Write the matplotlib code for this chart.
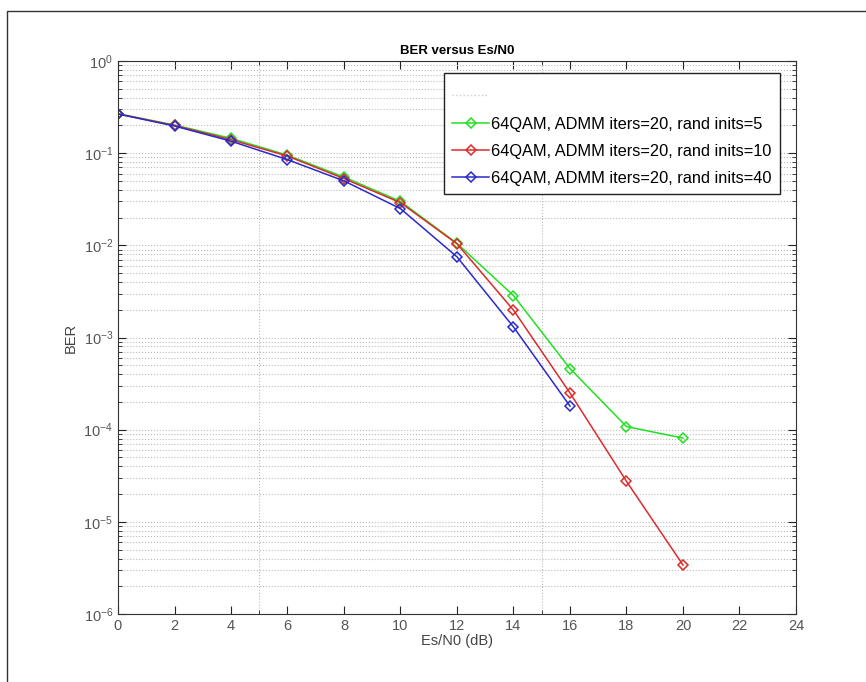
import numpy as np
import matplotlib.pyplot as plt
from matplotlib.lines import Line2D
from matplotlib.ticker import LogLocator, FixedLocator, NullFormatter

plt.rcParams['font.family'] = ['Liberation Sans', 'DejaVu Sans']

# Es/N0 (dB)
snr = [0, 2, 4, 6, 8, 10, 12, 14, 16, 18, 20]
ber_5 = [0.268, 0.202, 0.145, 0.095, 0.055, 0.030, 0.0105, 0.00285, 0.00046, 0.000108, 0.000081]
ber_10 = [0.267, 0.200, 0.140, 0.093, 0.053, 0.029, 0.0104, 0.00198, 0.00025, 0.0000275, 0.0000034]
snr_40 = [0, 2, 4, 6, 8, 10, 12, 14, 16]
ber_40 = [0.266, 0.197, 0.135, 0.085, 0.050, 0.025, 0.0075, 0.0013, 0.00018]

labels = ['64QAM, ADMM iters=20, rand inits=5',
          '64QAM, ADMM iters=20, rand inits=10',
          '64QAM, ADMM iters=20, rand inits=40']
colors = ['#22e022', '#dd2a2a', '#2a2acc']

fig = plt.figure(figsize=(8.66, 6.82), dpi=100)
# outer frame (left and top edges visible in the reference)
fig.lines.append(Line2D([7 / 866, 7 / 866, 1.0], [0.0, 1 - 11 / 682, 1 - 11 / 682],
                        transform=fig.transFigure, color='#333333', lw=1.0))
ax = fig.add_axes([118 / 866, 1 - 614 / 682, (796 - 118) / 866, (614 - 61) / 682])

l1, = ax.semilogy(snr, ber_5, '-D', color=colors[0], mfc='none', ms=5.5, mew=1.1, lw=1.1, label=labels[0])
l2, = ax.semilogy(snr, ber_10, '-D', color=colors[1], mfc='none', ms=5.5, mew=1.1, lw=1.1, label=labels[1])
l3, = ax.semilogy(snr_40, ber_40, '-D', color=colors[2], mfc='none', ms=5.5, mew=1.1, lw=1.1, label=labels[2])

ax.set_xlim(0, 24)
ax.set_ylim(1e-6, 1)
ax.set_xticks(np.arange(0, 25, 2))
ax.xaxis.set_minor_locator(FixedLocator([5, 10, 15, 20]))
ax.yaxis.set_major_locator(LogLocator(base=10, numticks=10))
ax.yaxis.set_minor_locator(LogLocator(base=10, subs=np.arange(2, 10), numticks=20))
ax.yaxis.set_minor_formatter(NullFormatter())

ax.grid(True, which='both', axis='y', linestyle=':', color='#bbbbbb', linewidth=0.8)
ax.grid(True, which='minor', axis='x', linestyle=':', color='#bbbbbb', linewidth=0.8)
ax.tick_params(axis='x', which='minor', length=0)
ax.tick_params(which='both', direction='in', top=True, right=True, colors='#222222',
               labelcolor='#555555', labelsize=10.5)
ax.tick_params(which='major', length=6)
ax.tick_params(which='minor', length=3)
for s in ax.spines.values():
    s.set_color('#333333')

ax.set_xlabel('Es/N0 (dB)', fontsize=10.5, color='#444444', labelpad=1)
ax.set_ylabel('BER', fontsize=10.5, color='#444444', labelpad=4)
ax.set_title('BER versus Es/N0', fontsize=9.5, fontweight='bold', pad=5)

blank = Line2D([], [], linestyle=':', color='#cccccc', lw=1)
leg = ax.legend([blank, l1, l2, l3], [' '] + labels, loc='upper right',
                bbox_to_anchor=(0.976, 0.978), borderaxespad=0, fontsize=11.8,
                fancybox=False, framealpha=1, edgecolor='#222222', handlelength=2.3,
                handletextpad=0.1, borderpad=0.5, labelspacing=0.72)
leg.get_frame().set_linewidth(1.0)
leg.get_texts()[0].set_fontsize(18)

fig.savefig('out.png', dpi=100)
